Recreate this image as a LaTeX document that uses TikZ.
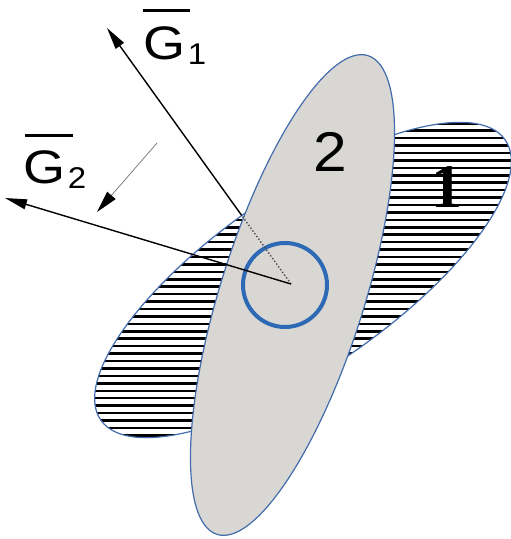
\documentclass[tikz,border=0pt]{standalone}
\usepackage{fontspec}
\setmainfont{Liberation Sans}
\newfontfamily\serifone{Liberation Serif}
\usetikzlibrary{arrows.meta,calc}
\definecolor{edgeblue}{RGB}{66,108,172}
\definecolor{ringblue}{RGB}{45,105,180}
\definecolor{fillgray}{RGB}{217,215,212}
\begin{document}
\begin{tikzpicture}[x=1pt,y=-1pt,
  outline/.style={draw=edgeblue,line width=1.2pt},
  vec/.style={line width=1.4pt,-{Triangle[length=22pt,width=10pt]}},
  glbl/.style={inner sep=0pt,font=\fontsize{47}{50}\selectfont,xscale=1.15,transform shape},
  gsub/.style={inner sep=0pt,font=\fontsize{30}{32}\selectfont,xscale=1.1,transform shape},
  bar/.style={line width=3pt}]
\useasboundingbox (0,0) rectangle (511,539);
% region 1 (hatched)
\fill[white,rotate around={34.7:(303,280)}] (303,280) ellipse [x radius=246, y radius=88];
\begin{scope}
  \clip[rotate around={34.7:(303,280)}] (303,280) ellipse [x radius=246, y radius=88];
  \foreach \k in {-2,...,45}
    \draw[line width=2.5pt] (60,{130.7+7.43*\k}) -- (530,{130.7+7.43*\k});
\end{scope}
\draw[outline,rotate around={34.7:(303,280)}] (303,280) ellipse [x radius=246, y radius=88];
% region 2 (grey)
\filldraw[fill=fillgray,outline,rotate around={72.5:(292.5,295)}] (292.5,295) ellipse [x radius=251, y radius=72];
% contact circle
\node[circle,draw=ringblue,line width=4pt,minimum size=84pt,inner sep=0pt] (ring) at (285,285) {};
% vectors
\coordinate (O) at (291,284);
\coordinate (G1tip) at (107,28);
\coordinate (G2tip) at (5,198);
\coordinate (E1) at ($(O)!0.268!(G1tip)$);
\draw[line width=1.4pt,dotted,black!70] (O) -- (E1);
\draw[vec] (E1) -- (G1tip);
\draw[vec] (O) -- (G2tip);
\coordinate (S0) at (157,143);
\coordinate (S1) at (97,212);
\draw[line width=0.8pt,gray,-{Triangle[length=22pt,width=11pt,color=black]}] (S0) -- (S1);
% labels
\node[glbl] (g1) at (165,43) {G};
\node[gsub] (g1s) at (197,54) {1};
\draw[bar] (143,10) -- (190,10);
\node[glbl] (g2) at (45,167) {G};
\node[gsub] (g2s) at (77,178) {2};
\draw[bar] (25,135) -- (73,135);
\node[inner sep=0pt,font=\fontsize{56}{60}\selectfont,xscale=1.08,transform shape] (n2) at (330,152) {2};
\node[inner sep=0pt,font=\serifone\bfseries\fontsize{62}{66}\selectfont] (n1) at (447,187) {1};
\end{tikzpicture}
\end{document}
